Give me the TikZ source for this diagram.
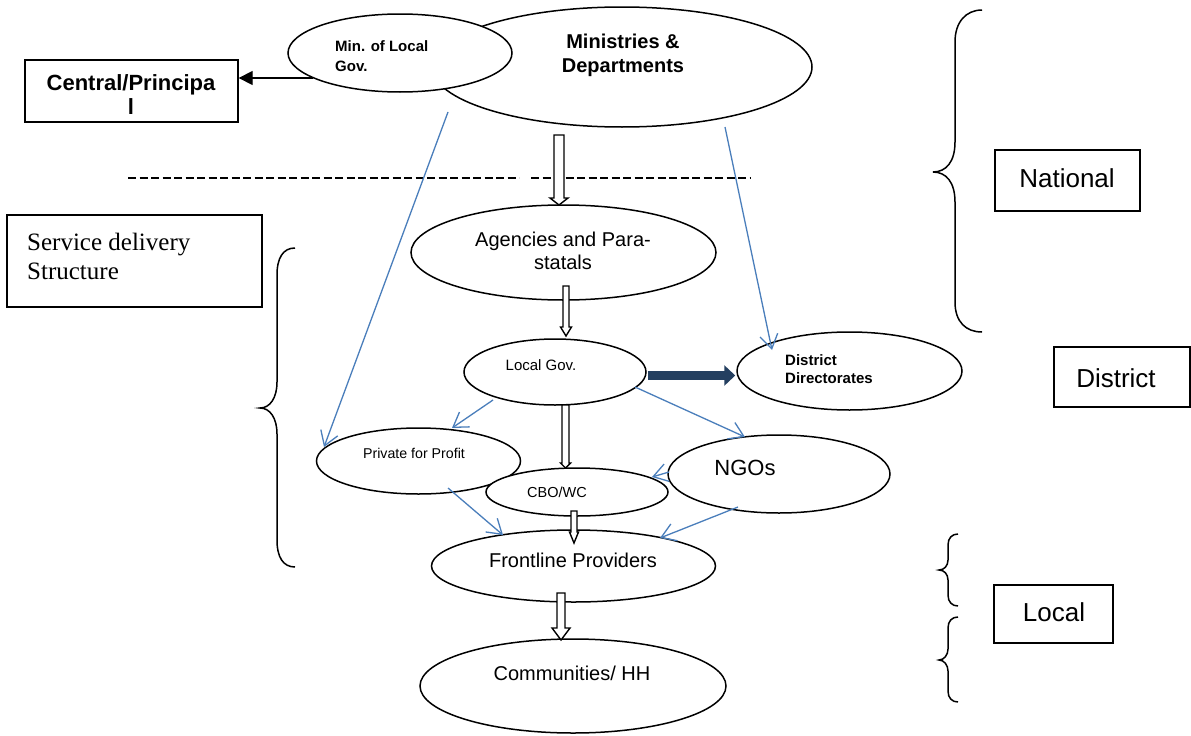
\documentclass[tikz,border=0pt]{standalone}
\usepackage{fontspec}
\setmainfont{Liberation Sans}
\newfontfamily\serifface{Liberation Serif}
\usetikzlibrary{shapes.geometric,arrows.meta,calc}
\definecolor{lineblue}{HTML}{4A7EBB}
\definecolor{darknavy}{HTML}{243F60}
\newcommand{\fs}[2]{\fontsize{#1}{#2}\selectfont}
\newcommand{\hollowarrow}[5]{%
  \draw[hollow] let \p1=(#1), \p2=(#2) in
    (\x2-#3pt,\y1) -- (\x2-#3pt,\y2+#5pt) -- (\x2-#4pt,\y2+#5pt) -- (\x2,\y2)
    -- (\x2+#4pt,\y2+#5pt) -- (\x2+#3pt,\y2+#5pt) -- (\x2+#3pt,\y1) -- cycle;}
\tikzset{
  ell/.style={draw, ellipse, line width=1.5pt, fill=white, inner sep=0pt},
  txt/.style={inner sep=0pt, align=center},
  bluearrow/.style={draw=lineblue, line width=1.3pt, -{Straight Barb[length=14pt,width=18pt]}},
  hollow/.style={draw, line width=1.4pt, fill=white, line join=miter},
  labelbox/.style={draw, line width=1.3pt, fill=white, inner sep=0pt},
  bracepath/.style={draw, line width=1.5pt},
  dashline/.style={draw, line width=2.2pt, dash pattern=on 8pt off 3.5pt},
}
\begin{document}
\begin{tikzpicture}[x=1pt,y=-1pt]
\useasboundingbox (0,0) rectangle (1191,736);
\fill[white] (0,0) rectangle (1191,736);

% ---- national level
\node[ell, minimum width=380pt, minimum height=120pt] (mdept) at (622,67) {};
\node[txt, font=\bfseries\fs{20}{24}] (mdeptt) at (623,55) {Ministries \&\\Departments};
\node[ell, minimum width=224pt, minimum height=78pt] (mlg) at (400,53) {};
\node[txt, align=left, anchor=west, font=\bfseries\fs{15}{20}] (mlgt) at (335,56) {Min. of Local\\Gov.};

\node[labelbox, minimum width=213pt, minimum height=62pt] (cen) at (131.5,91) {};
\node[txt, font=\bfseries\fs{22}{24}] (cent) at (131,95) {Central/Principa\\l};
\coordinate (cas) at (313,78);
\draw[line width=1.3pt, -{Triangle[length=14pt,width=14pt]}] (cas) -- (cen.east |- cas);

% dashed separator
\coordinate (d1a) at (128,178); \coordinate (d1b) at (519,178);
\coordinate (d2a) at (531,178); \coordinate (d2b) at (750,178);
\draw[dashline] (d1a) -- (d1b);
\draw[dashline] (d2a) -- (d2b);

% ---- service structure
\node[ell, minimum width=305pt, minimum height=95pt] (agen) at (563.5,252.5) {};
\node[txt, font=\fs{20}{23}] (agent) at (563,251) {Agencies and Para-\\statals};

\node[ell, minimum width=182pt, minimum height=66pt] (lg) at (555,372) {};
\node[txt, font=\fs{15}{18}] (lgt) at (541,365) {Local Gov.};

\node[ell, minimum width=225pt, minimum height=78pt] (dd) at (849.5,371) {};
\node[txt, align=left, anchor=west, font=\bfseries\fs{15}{18}] (ddt) at (785,369) {District\\Directorates};

\node[ell, minimum width=204pt, minimum height=66pt] (pfp) at (418.5,461) {};
\node[txt, font=\fs{14.2}{17}] (pfpt) at (414,453) {Private for Profit};

\node[ell, minimum width=222pt, minimum height=78pt] (ngo) at (779,474) {};
\node[txt, font=\fs{22}{26}] (ngot) at (745,468) {NGOs};

\node[ell, minimum width=182pt, minimum height=48pt] (cbo) at (577,492) {};
\node[txt, font=\fs{14.5}{17}] (cbot) at (557,492) {CBO/WC};

\node[ell, minimum width=284pt, minimum height=72pt] (flp) at (573.5,566) {};
\node[txt, font=\fs{20}{23}] (flpt) at (573,560) {Frontline Providers};

\node[ell, minimum width=306pt, minimum height=94pt] (com) at (573,686) {};
\node[txt, font=\fs{20}{23}] (comt) at (572,673) {Communities/ HH};

% ---- hollow arrows
\coordinate (a1s) at (559,135); \coordinate (a1t) at (559,205);
\hollowarrow{a1s}{a1t}{5}{9}{7}
\coordinate (a2s) at (566,286); \coordinate (a2t) at (566,336);
\hollowarrow{a2s}{a2t}{3}{5.5}{9}
\coordinate (a3s) at (565.5,405); \coordinate (a3t) at (565.5,468);
\hollowarrow{a3s}{a3t}{3.5}{5}{5}
\coordinate (a4s) at (574,511); \coordinate (a4t) at (574,543);
\hollowarrow{a4s}{a4t}{3}{4.5}{11}
\coordinate (a5s) at (561,593); \coordinate (a5t) at (561,640);
\hollowarrow{a5s}{a5t}{4}{9}{12}

% thick arrow Local Gov -> District Directorates
\draw[darknavy, line width=9pt, -{Triangle[length=11pt,width=20pt]}]
  ($(lg.east)+(1,3.5)$) -- ($(dd.west)+(-1,4.5)$);

% ---- blue arrows
\coordinate (b1s) at (448,112); \coordinate (b1t) at (324,447);
\coordinate (b2s) at (725,127); \coordinate (b2t) at (772,350);
\coordinate (b3s) at (493,400); \coordinate (b3t) at (452,428);
\coordinate (b4s) at (635,387); \coordinate (b4t) at (745,437);
\coordinate (b5s) at (669,472); \coordinate (b5t) at (652,477);
\coordinate (b6s) at (448,488); \coordinate (b6t) at (503,535);
\coordinate (b7s) at (738,507); \coordinate (b7t) at (660,538);
\draw[bluearrow] (b1s) -- (b1t);
\draw[bluearrow] (b2s) -- (b2t);
\draw[bluearrow] (b3s) -- (b3t);
\draw[bluearrow] (b4s) -- (b4t);
\draw[bluearrow] (b5s) -- (b5t);
\draw[bluearrow] (b6s) -- (b6t);
\draw[bluearrow] (b7s) -- (b7t);

% ---- level boxes
\node[labelbox, minimum width=145pt, minimum height=61pt] (nat) at (1067.5,180.5) {};
\node[txt, font=\fs{26}{30}] (natt) at (1067,178) {National};
\node[labelbox, minimum width=136pt, minimum height=60pt] (dis) at (1122,377) {};
\node[txt, font=\fs{26}{30}] (dist) at (1116,378) {District};
\node[labelbox, minimum width=119pt, minimum height=58pt] (loc) at (1053.5,614) {};
\node[txt, font=\fs{26}{30}] (loct) at (1054,612) {Local};
\node[labelbox, minimum width=255pt, minimum height=92pt] (sds) at (134.5,261) {};
\node[txt, align=left, anchor=west, font=\serifface\fs{25}{29}] (sdst) at (27,256) {Service delivery\\Structure};

% ---- braces
\draw[bracepath] (982,10) .. controls (966,10) and (955,22) .. (955,42) -- (955,142)
  .. controls (955,162) and (946,172) .. (933,172)
  .. controls (946,172) and (955,182) .. (955,202) -- (955,302)
  .. controls (955,322) and (966,332) .. (982,332);
\draw[bracepath] (295,248) .. controls (283,248) and (277,258) .. (277,275) -- (277,382)
  .. controls (277,398) and (270,408) .. (260,408)
  .. controls (270,408) and (277,418) .. (277,434) -- (277,540)
  .. controls (277,557) and (283,567) .. (295,567);
\draw[bracepath] (958,534) .. controls (952,534) and (948,538) .. (948,545) -- (948,560)
  .. controls (948,566) and (944,570) .. (939,570)
  .. controls (944,570) and (948,574) .. (948,580) -- (948,595)
  .. controls (948,602) and (952,606) .. (958,606);
\draw[bracepath] (958,617) .. controls (952,617) and (948,621) .. (948,628) -- (948,649)
  .. controls (948,655) and (944,660) .. (939,660)
  .. controls (944,660) and (948,665) .. (948,671) -- (948,691)
  .. controls (948,698) and (952,702) .. (958,702);
\end{tikzpicture}
\end{document}
